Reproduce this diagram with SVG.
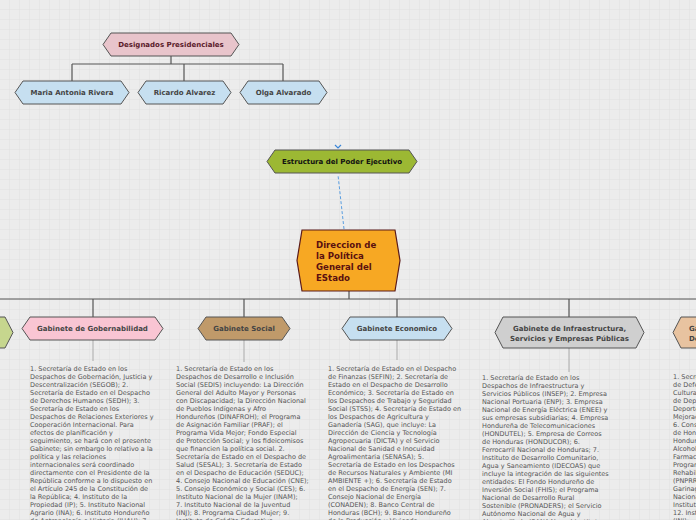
<svg xmlns="http://www.w3.org/2000/svg" width="696" height="520" viewBox="0 0 696 520">
<defs>
<pattern id="grid" width="10" height="10" patternUnits="userSpaceOnUse">
<rect width="10" height="10" fill="#ececec"/>
<path d="M10 0V10M0 10H10" stroke="#e0e0e0" stroke-width="1" fill="none"/>
</pattern>
<style>
.lbl{font-family:"DejaVu Sans",Verdana,sans-serif;font-weight:bold;font-size:7px;text-anchor:middle;fill:#444}
.node{stroke:#555;stroke-width:1}
.body{font-family:"DejaVu Sans",Verdana,sans-serif;font-size:6.5px;fill:#555}
.tree{stroke:#555;stroke-width:1.2;fill:none}
.sub{stroke:#aaa;stroke-width:1;fill:none}
</style>
</defs>
<rect width="696" height="520" fill="url(#grid)"/>

<g id="connectors">
<path class="tree" d="M171 56V64M72 64H283M72 64V81M184 64V81M283 64V81"/>
<path d="M344 229L338 175" stroke="#5a9ee0" stroke-width="1" stroke-dasharray="3,2" fill="none"/>
<path d="M335 145L338 148L341 145" stroke="#3b86d8" stroke-width="1.2" fill="none"/>
<path class="tree" d="M349 291V299M0 299H696M93 299V317M244 299V317M397 299V317M569 299V317"/>
<path class="sub" d="M93 340V361M244 340V362M397 340V360M569 348V372"/>
</g>

<g id="designados">
<path class="node" d="M103 44.5L111 33H231L239 44.5L231 56H111Z" fill="#e8c4cb" stroke="#5a2a35"/>
<text class="lbl" x="171" y="47" style="fill:#5a1a2a">Designados Presidenciales</text>
</g>
<g id="maria">
<path class="node" d="M15 92.5L23 81H121L129 92.5L121 104H23Z" fill="#c6dff0"/>
<text class="lbl" x="72" y="95">Maria Antonia Rivera</text>
</g>
<g id="ricardo">
<path class="node" d="M138 92.5L146 81H223L231 92.5L223 104H146Z" fill="#c6dff0"/>
<text class="lbl" x="184.5" y="95">Ricardo Alvarez</text>
</g>
<g id="olga">
<path class="node" d="M240 92.5L248 81H319L327 92.5L319 104H248Z" fill="#c6dff0"/>
<text class="lbl" x="283.5" y="95">Olga Alvarado</text>
</g>

<g id="estructura">
<path class="node" d="M267 161.5L275 150H409L417 161.5L409 173H275Z" fill="#9cb833" stroke="#2c3a10"/>
<text class="lbl" x="342" y="164" style="fill:#111">Estructura del Poder Ejecutivo</text>
</g>

<g id="direccion">
<path d="M297 260.5L302 230H395L400 260.5L395 291H302Z" fill="#f7a823" stroke="#5a1a1a" stroke-width="1.2"/>
<g font-family="DejaVu Sans,Verdana,sans-serif" font-weight="bold" font-size="8.6" fill="#5a1010">
<text x="316" y="248">Direccion de</text>
<text x="316" y="259">la Política</text>
<text x="316" y="270">General del</text>
<text x="316" y="281">EStado</text>
</g>
</g>

<g id="gab-left">
<path class="node" d="M-60 332.5L-52 317H5L13 332.5L5 348H-52Z" fill="#c6d68e"/>
</g>

<g id="gab-gobernabilidad">
<path class="node" d="M22 328.5L30 317H155L163 328.5L155 340H30Z" fill="#f9c5d3"/>
<text class="lbl" x="92.5" y="331">Gabinete de Gobernabilidad</text>
<g class="body">
<text x="30" y="371">1. Secretaría de Estado en los</text>
<text x="30" y="379">Despachos de Gobernación, Justicia y</text>
<text x="30" y="387">Descentralización (SEGOB); 2.</text>
<text x="30" y="395">Secretaría de Estado en el Despacho</text>
<text x="30" y="403">de Derechos Humanos (SEDH); 3.</text>
<text x="30" y="411">Secretaría de Estado en los</text>
<text x="30" y="419">Despachos de Relaciones Exteriores y</text>
<text x="30" y="427">Cooperación Internacional. Para</text>
<text x="30" y="435">efectos de planificación y</text>
<text x="30" y="443">seguimiento, se hará con el presente</text>
<text x="30" y="451">Gabinete; sin embargo lo relativo a la</text>
<text x="30" y="459">política y las relaciones</text>
<text x="30" y="467">internacionales será coordinado</text>
<text x="30" y="475">directamente con el Presidente de la</text>
<text x="30" y="483">República conforme a lo dispuesto en</text>
<text x="30" y="491">el Artículo 245 de la Constitución de</text>
<text x="30" y="499">la República; 4. Instituto de la</text>
<text x="30" y="507">Propiedad (IP); 5. Instituto Nacional</text>
<text x="30" y="515">Agrario (INA); 6. Instituto Hondureño</text>
<text x="30" y="523">de Antropología e Historia (IHAH); 7.</text>
</g>
</g>

<g id="gab-social">
<path class="node" d="M198 328.5L206 317H282L290 328.5L282 340H206Z" fill="#c09a6a"/>
<text class="lbl" x="244" y="331">Gabinete Social</text>
<g class="body">
<text x="176" y="371">1. Secretaría de Estado en los</text>
<text x="176" y="379">Despachos de Desarrollo e Inclusión</text>
<text x="176" y="387">Social (SEDIS) incluyendo: La Dirección</text>
<text x="176" y="395">General del Adulto Mayor y Personas</text>
<text x="176" y="403">con Discapacidad; la Dirección Nacional</text>
<text x="176" y="411">de Pueblos Indígenas y Afro</text>
<text x="176" y="419">Hondureños (DINAFROH); el Programa</text>
<text x="176" y="427">de Asignación Familiar (PRAF); el</text>
<text x="176" y="435">Programa Vida Mejor; Fondo Especial</text>
<text x="176" y="443">de Protección Social; y los fideicomisos</text>
<text x="176" y="451">que financien la política social. 2.</text>
<text x="176" y="459">Secretaría de Estado en el Despacho de</text>
<text x="176" y="467">Salud (SESAL); 3. Secretaría de Estado</text>
<text x="176" y="475">en el Despacho de Educación (SEDUC);</text>
<text x="176" y="483">4. Consejo Nacional de Educación (CNE);</text>
<text x="176" y="491">5. Consejo Económico y Social (CES); 6.</text>
<text x="176" y="499">Instituto Nacional de la Mujer (INAM);</text>
<text x="176" y="507">7. Instituto Nacional de la Juventud</text>
<text x="176" y="515">(INJ); 8. Programa Ciudad Mujer; 9.</text>
<text x="176" y="523">Instituto de Crédito Educativo</text>
</g>
</g>

<g id="gab-economico">
<path class="node" d="M342 328.5L350 317H444L452 328.5L444 340H350Z" fill="#c6dff0"/>
<text class="lbl" x="397" y="331">Gabinete Economico</text>
<g class="body">
<text x="328" y="371">1. Secretaría de Estado en el Despacho</text>
<text x="328" y="379">de Finanzas (SEFIN); 2. Secretaría de</text>
<text x="328" y="387">Estado en el Despacho de Desarrollo</text>
<text x="328" y="395">Económico; 3. Secretaría de Estado en</text>
<text x="328" y="403">los Despachos de Trabajo y Seguridad</text>
<text x="328" y="411">Social (STSS); 4. Secretaría de Estado en</text>
<text x="328" y="419">los Despachos de Agricultura y</text>
<text x="328" y="427">Ganadería (SAG), que incluye: La</text>
<text x="328" y="435">Dirección de Ciencia y Tecnología</text>
<text x="328" y="443">Agropecuaria (DICTA) y el Servicio</text>
<text x="328" y="451">Nacional de Sanidad e Inocuidad</text>
<text x="328" y="459">Agroalimentaria (SENASA); 5.</text>
<text x="328" y="467">Secretaría de Estado en los Despachos</text>
<text x="328" y="475">de Recursos Naturales y Ambiente (MI</text>
<text x="328" y="483">AMBIENTE +); 6. Secretaría de Estado</text>
<text x="328" y="491">en el Despacho de Energía (SEN); 7.</text>
<text x="328" y="499">Consejo Nacional de Energía</text>
<text x="328" y="507">(CONADEN); 8. Banco Central de</text>
<text x="328" y="515">Honduras (BCH); 9. Banco Hondureño</text>
<text x="328" y="523">de la Producción y Vivienda</text>
</g>
</g>

<g id="gab-infraestructura">
<path class="node" d="M495 332.5L503 317H636L644 332.5L636 348H503Z" fill="#cfcfcf"/>
<text class="lbl" x="569.5" y="331">Gabinete de Infraestructura,</text>
<text class="lbl" x="569.5" y="341">Servicios y Empresas Públicas</text>
<g class="body">
<text x="482" y="380">1. Secretaría de Estado en los</text>
<text x="482" y="388">Despachos de Infraestructura y</text>
<text x="482" y="396">Servicios Públicos (INSEP); 2. Empresa</text>
<text x="482" y="404">Nacional Portuaria (ENP); 3. Empresa</text>
<text x="482" y="412">Nacional de Energía Eléctrica (ENEE) y</text>
<text x="482" y="420">sus empresas subsidiarias; 4. Empresa</text>
<text x="482" y="428">Hondureña de Telecomunicaciones</text>
<text x="482" y="436">(HONDUTEL); 5. Empresa de Correos</text>
<text x="482" y="444">de Honduras (HONDUCOR); 6.</text>
<text x="482" y="452">Ferrocarril Nacional de Honduras; 7.</text>
<text x="482" y="460">Instituto de Desarrollo Comunitario,</text>
<text x="482" y="468">Agua y Saneamiento (IDECOAS) que</text>
<text x="482" y="476">incluye la integración de las siguientes</text>
<text x="482" y="484">entidades: El Fondo Hondureño de</text>
<text x="482" y="492">Inversión Social (FHIS); el Programa</text>
<text x="482" y="500">Nacional de Desarrollo Rural</text>
<text x="482" y="508">Sostenible (PRONADERS); el Servicio</text>
<text x="482" y="516">Autónomo Nacional de Agua y</text>
<text x="482" y="524">Alcantarillado (SANAA); y el Instituto</text>
</g>
</g>

<g id="gab-right">
<path class="node" d="M673 332.5L681 317H760L768 332.5L760 348H681Z" fill="#e8c3a0"/>
<text class="lbl" x="689" y="331" style="text-anchor:start">Gabinete de Prevención,</text>
<text class="lbl" x="689" y="341" style="text-anchor:start">Desarrollo Humano</text>
<g class="body">
<text x="673" y="379">1. Secretaría de Estado en el Despacho</text>
<text x="673" y="387">de Defensa Nacional; 2. Secretaría de</text>
<text x="673" y="395">Cultura, Artes y Patrimonio; 3. Comisión</text>
<text x="673" y="403">de Deportes, Educación Física y</text>
<text x="673" y="411">Deportes; 4. Programa Vida</text>
<text x="673" y="419">Mejorada; 5. Consejo Nacional;</text>
<text x="673" y="427">6. Consejo Nacional de Prevención</text>
<text x="673" y="435">de Honduras; 7. Instituto</text>
<text x="673" y="443">Hondureño para la Prevención del</text>
<text x="673" y="451">Alcoholismo, Drogadicción y</text>
<text x="673" y="459">Farmacodependencia (IHADFA); 8.</text>
<text x="673" y="467">Programa Nacional de Prevención,</text>
<text x="673" y="475">Rehabilitación y Reinserción Social</text>
<text x="673" y="483">(PNPRRS); 9. Comisión Nacional</text>
<text x="673" y="491">Garinagu; 10. Comisión</text>
<text x="673" y="499">Nacional; 11.</text>
<text x="673" y="507">Instituto Nacional;</text>
<text x="673" y="515">12. Instituto Nacional de la Juventud</text>
<text x="673" y="523">(INJ);</text>
</g>
</g>
</svg>
